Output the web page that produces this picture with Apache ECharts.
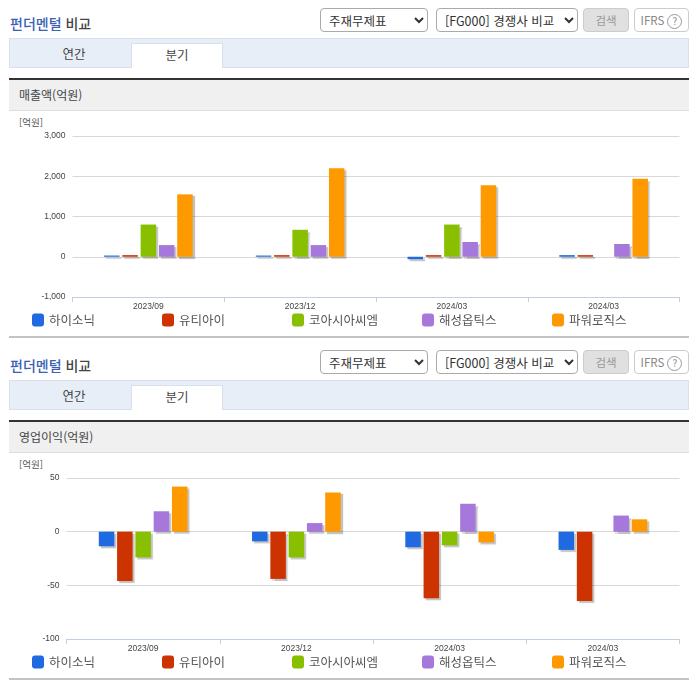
<!DOCTYPE html>
<html lang="ko"><head><meta charset="utf-8">
<script src="https://cdn.jsdelivr.net/npm/echarts@6/dist/echarts.min.js"></script>
<style>
html,body{margin:0;padding:0;background:#fff;width:696px;height:684px;overflow:hidden;font-family:"Noto Sans CJK KR",sans-serif;}
.a{position:absolute;box-sizing:border-box;white-space:nowrap;}
.t{font-size:14px;font-weight:500;color:#444;line-height:20px;}
.t b{font-weight:500;color:#3a62b4;}
select.a{font:12.5px "Noto Sans CJK KR",sans-serif;color:#333;background:#fff;border:1px solid #aaa;border-radius:4px;padding:0 0 0 4px;height:24px;}
.btn{height:24px;border-radius:4px;font-size:11.5px;line-height:22px;text-align:center;}
.tabbar{left:9px;width:680px;height:30px;background:#e8eef8;border:1px solid #d8e0ea;}
.tab{left:131px;width:92px;height:25px;background:#fff;border:1px solid #d8e0ea;border-bottom:0;}
.lb{font-size:12.5px;color:#444;line-height:16px;transform:translateX(-50%);}
.rule{left:9px;width:680px;height:2px;background:#333;}
.hd{left:9px;width:680px;height:31px;background:#f0f0f0;border-bottom:1px solid #ddd;font-size:12px;color:#444;line-height:30px;padding-left:10px;}
.end{left:9px;width:680px;height:2px;background:#c4c4c4;}
#chart{position:absolute;left:0;top:0;width:696px;height:684px;}
</style></head><body>
<div id="chrome"></div>
<div id="chart"></div>
<script>
const categories = ['2023/09','2023/12','2024/03','2024/03'];
const seriesNames = ['하이소닉','유티아이','코아시아씨엠','해성옵틱스','파워로직스'];
const seriesColors = ['#1f6ae0','#cc3300','#88c000','#a678dc','#ff9900'];
const revenueHisonic = [30,30,-60,40];
const revenueUTI = [40,40,40,40];
const revenueCoasia = [800,670,800,null];
const revenueHaesung = [290,290,367,317];
const revenuePowerlogics = [1550,2200,1775,1940];
const profitHisonic = [-13.6,-9,-14.5,-17];
const profitUTI = [-46,-44,-62,-64.5];
const profitCoasia = [-24,-24,-12.7,null];
const profitHaesung = [19,8,26,15];
const profitPowerlogics = [42,36.5,-10,11.5];
const revenueTicks = {min:-1000,max:3000,interval:1000};
const profitTicks = {min:-100,max:50,interval:50};
const sectionTitles = ['매출액(억원)','영업이익(억원)'];

// page chrome
const chrome = document.getElementById('chrome');
sectionTitles.forEach((title,i)=>{
  const o = i*342;
  chrome.insertAdjacentHTML('beforeend',`
  <div class="a t" style="left:10px;top:${13+o}px"><b>펀더멘털</b> 비교</div>
  <select class="a" style="left:320px;top:${8+o}px;width:108px"><option>주재무제표</option></select>
  <select class="a" style="left:436px;top:${8+o}px;width:142px"><option>[FG000] 경쟁사 비교</option></select>
  <div class="a btn" style="left:583px;top:${8+o}px;width:46px;background:#e0e0e0;border:1px solid #ccc;color:#999">검색</div>
  <div class="a btn" style="left:634px;top:${8+o}px;width:55px;background:#fff;border:1px solid #ccc;color:#888">IFRS <span style="display:inline-block;width:13px;height:13px;line-height:12px;border:1px solid #999;border-radius:50%;font-size:10px">?</span></div>
  <div class="a tabbar" style="top:${38+o}px"></div>
  <div class="a tab" style="top:${43+o}px"></div>
  <div class="a lb" style="left:74px;top:${46+o}px">연간</div>
  <div class="a lb" style="left:177px;top:${47+o}px">분기</div>
  <div class="a rule" style="top:${78+o}px"></div>
  <div class="a hd" style="top:${80+o}px">${title}</div>
  <div class="a" style="left:19px;top:${116+o}px;font-size:9.5px;color:#555;line-height:13px">[억원]</div>
  <div class="a end" style="top:${336+o}px"></div>`);
});

const latin = '"Liberation Sans",Arial,sans-serif';
const legendX = [32,162,292,422,552];
const grids = [
  {left:72.5,right:16.5,top:136,height:161},
  {left:66.5,right:16.5,top:478,height:161}
];
const xAxes = grids.map((g,i)=>({
  type:'category',gridIndex:i,data:categories,
  axisLine:{onZero:false,lineStyle:{color:'#c0d0e0',width:1}},
  axisTick:{show:true,length:5,lineStyle:{color:'#c0d0e0'}},
  axisLabel:{fontFamily:latin,fontSize:8.5,color:'#444',margin:5,interval:0},
  splitLine:{show:false}
}));
const yAxes = [revenueTicks,profitTicks].map((t,i)=>({
  type:'value',gridIndex:i,min:t.min,max:t.max,interval:t.interval,
  axisLine:{show:false},axisTick:{show:false},
  axisLabel:{fontFamily:latin,fontSize:8.5,color:'#444',margin:7,
    formatter:v=>v.toLocaleString('en-US')},
  splitLine:{lineStyle:{color:'#d8d8d8',width:1}}
}));
const makeSeries = (values,axis)=>values.map((data,k)=>({
  type:'bar',name:seriesNames[k],xAxisIndex:axis,yAxisIndex:axis,data,
  barWidth:15.5,barGap:'18%',
  itemStyle:{color:seriesColors[k],shadowColor:'rgba(0,0,0,0.24)',shadowBlur:1,shadowOffsetX:2,shadowOffsetY:2},
  emphasis:{disabled:true},animation:false
}));
const series = [
  ...makeSeries([revenueHisonic,revenueUTI,revenueCoasia,revenueHaesung,revenuePowerlogics],0),
  ...makeSeries([profitHisonic,profitUTI,profitCoasia,profitHaesung,profitPowerlogics],1)
];
const legends = [0,342].flatMap(o=>seriesNames.map((name,k)=>({
  data:[name],left:legendX[k],top:313.5+o,padding:0,
  itemWidth:12,itemHeight:13,itemGap:5,
  itemStyle:{borderRadius:2,shadowBlur:0,shadowOffsetX:0,shadowOffsetY:0,shadowColor:'transparent'},
  textStyle:{fontFamily:'"Noto Sans CJK KR",sans-serif',fontSize:12.5,color:'#555',padding:[0,0,0,0]},
  selectedMode:false
})));
const chart = echarts.init(document.getElementById('chart'),null,{renderer:'canvas'});
chart.setOption({
  animation:false,backgroundColor:'transparent',color:seriesColors,
  grid:grids,xAxis:xAxes,yAxis:yAxes,legend:legends,series
});
</script>
</body></html>
